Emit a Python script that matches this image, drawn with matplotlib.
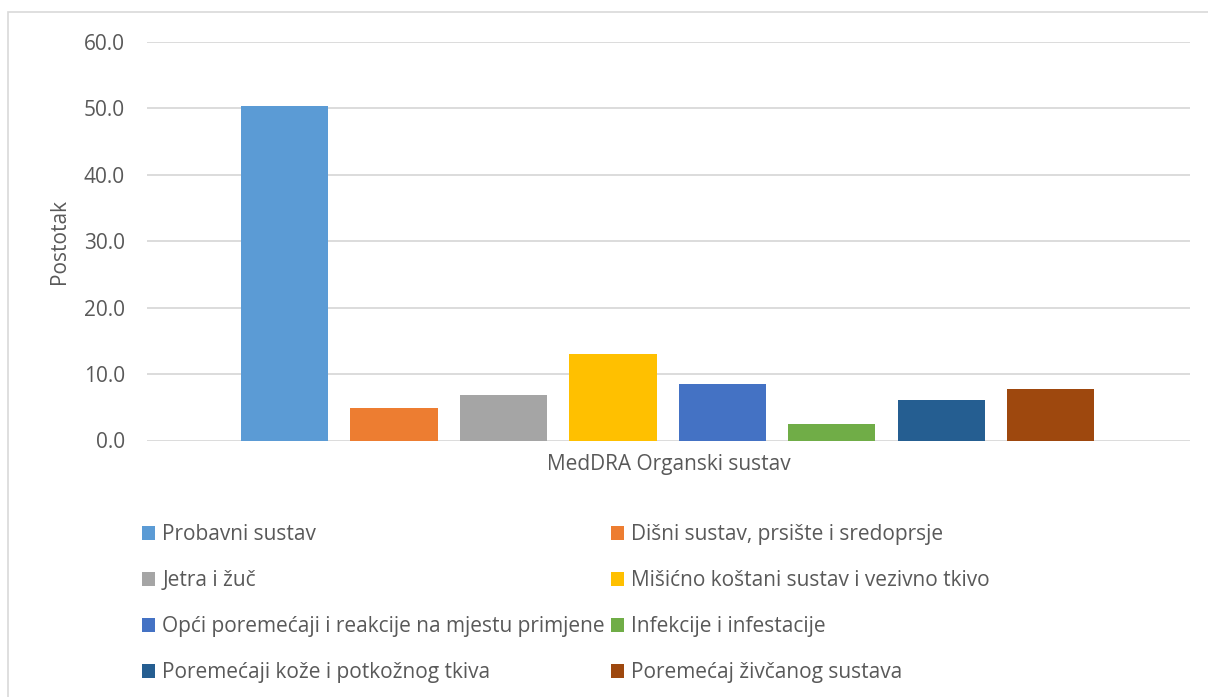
import matplotlib.pyplot as plt
from matplotlib.patches import Patch, Rectangle

# Data
categories = [
    'Probavni sustav',
    'Dišni sustav, prsište i sredoprsje',
    'Jetra i žuč',
    'Mišićno koštani sustav i vezivno tkivo',
    'Opći poremećaji i reakcije na mjestu primjene',
    'Infekcije i infestacije',
    'Poremećaji kože i potkožnog tkiva',
    'Poremećaj živčanog sustava',
]
values = [50.4, 4.9, 6.9, 13.0, 8.5, 2.5, 6.1, 7.8]
colors = ['#5B9BD5', '#ED7D31', '#A5A5A5', '#FFC000',
          '#4472C4', '#70AD47', '#255E91', '#9E480E']
yticks = [0, 10, 20, 30, 40, 50, 60]

TXT = '#595959'
plt.rcParams['font.family'] = ['Open Sans', 'DejaVu Sans']

fig = plt.figure(figsize=(12.08, 6.97), dpi=100)
W, H = 1208, 697

# outer chart border
fig.patches.append(Rectangle((8 / W, -0.05), 1.2, 1 - 12 / H + 0.05,
                             transform=fig.transFigure, fill=False,
                             edgecolor='#D9D9D9', lw=1.2))

ax = fig.add_axes([147 / W, 1 - 440.5 / H, (1190 - 147) / W, (440.5 - 42) / H])
x = list(range(len(values)))
bars = ax.bar(x, values, width=0.795, color=colors, zorder=3)

ax.set_xlim(-1.256, 8.27)
ax.set_ylim(0, 60)
ax.set_yticks(yticks)
ax.set_yticklabels([f'{v:.1f}' for v in yticks], fontsize=15, color=TXT)
ax.set_xticks([])
ax.tick_params(axis='y', length=0, pad=16)
ax.grid(axis='y', color='#D9D9D9', lw=1.3, zorder=0)
for s in ax.spines.values():
    s.set_visible(False)

ax.set_ylabel('Postotak', fontsize=15, color=TXT, labelpad=10)
ax.set_xlabel('MedDRA Organski sustav', fontsize=15, color=TXT, labelpad=10)

# legend: two columns, filled row-wise
handles = [Patch(facecolor=c) for c in colors]
for col, x0 in enumerate([134, 603]):
    idx = list(range(col, len(categories), 2))
    leg = fig.legend([handles[i] for i in idx], [categories[i] for i in idx],
                     loc='upper left', bbox_to_anchor=(x0 / W, 1 - 516 / H),
                     frameon=False, fontsize=15, labelcolor=TXT,
                     handlelength=0.62, handleheight=0.62, handletextpad=0.34,
                     labelspacing=1.2, borderaxespad=0)

fig.savefig('out.png', dpi=100, facecolor='white')
